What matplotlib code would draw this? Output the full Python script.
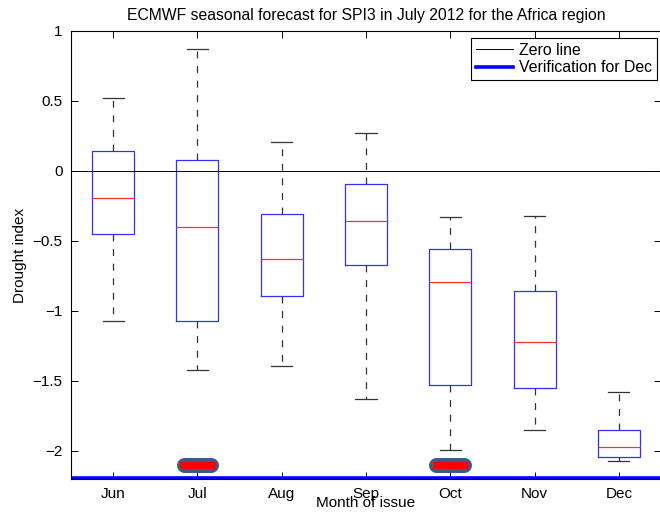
import matplotlib
matplotlib.use("Agg")
from matplotlib import pyplot as plt

plt.rcParams['font.family'] = ['Liberation Sans', 'DejaVu Sans']
plt.rcParams['lines.scale_dashes'] = False

months = ["Jun", "Jul", "Aug", "Sep", "Oct", "Nov", "Dec"]
whisker_hi = [0.52, 0.87, 0.21, 0.27, -0.33, -0.32, -1.58]
q3 = [0.14, 0.08, -0.31, -0.09, -0.56, -0.86, -1.85]
median = [-0.19, -0.40, -0.63, -0.36, -0.79, -1.22, -1.97]
q1 = [-0.45, -1.07, -0.89, -0.67, -1.53, -1.55, -2.04]
whisker_lo = [-1.07, -1.42, -1.39, -1.63, -1.99, -1.85, -2.07]

verif_dec = -2.19
hit_months = ["Jul", "Oct"]
hit_value = -2.10

stats = []
for i, m in enumerate(months):
    stats.append({"label": m, "whislo": whisker_lo[i], "q1": q1[i], "med": median[i],
                  "q3": q3[i], "whishi": whisker_hi[i], "fliers": []})

fig = plt.figure(figsize=(6.6, 5.15), dpi=100)
ax = fig.add_axes([71 / 660, 1 - 479 / 515, 590 / 660, 448 / 515])

pos = list(range(1, len(months) + 1))
ax.bxp(stats, positions=pos, widths=0.5, showfliers=False,
       boxprops=dict(color="#3030ff", linewidth=0.9),
       medianprops=dict(color="#ff3030", linewidth=0.9),
       whiskerprops=dict(color="#333333", linewidth=0.9, linestyle=(0, (5, 5.5))),
       capprops=dict(color="#333333", linewidth=0.9),
       capwidths=0.25)

zero, = ax.plot([0.5, 7.5], [0, 0], color="black", linewidth=0.7, label="Zero line")
verif, = ax.plot([0.5, 7.5], [verif_dec, verif_dec], color="#0000ff", linewidth=2.6,
                 label="Verification for Dec")

# red markers where the forecast got it right
for m in hit_months:
    x = months.index(m) + 1
    ax.plot([x - 0.165, x + 0.165], [hit_value, hit_value], color="#3b5c85",
            linewidth=10.8, solid_capstyle="round", zorder=5)
    ax.plot([x - 0.205, x + 0.205], [hit_value, hit_value], color="#ff0000",
            linewidth=5, solid_capstyle="butt", zorder=6)

ax.set_xlim(0.5, 7.5)
ax.set_ylim(-2.2, 1)
ax.set_xticks(pos)
ax.set_xticklabels(months, fontsize=11)
ax.set_yticks([-2, -1.5, -1, -0.5, 0, 0.5, 1])
ax.set_yticklabels(["\u22122", "\u22121.5", "\u22121", "\u22120.5", "0", "0.5", "1"], fontsize=11)
ax.tick_params(direction="in", top=True, right=True, length=5, width=0.7, pad=6)
for s in ax.spines.values():
    s.set_linewidth(0.8)

ax.set_xlabel("Month of issue", fontsize=11, labelpad=-4)
ax.set_ylabel("Drought index", fontsize=11, labelpad=4)
ax.set_title("ECMWF seasonal forecast for SPI3 in July 2012 for the Africa region",
             fontsize=11.3, pad=8)

leg = ax.legend(handles=[zero, verif], loc="upper right", fontsize=11.4,
                bbox_to_anchor=(657 / 660, 1 - 38 / 515), bbox_transform=fig.transFigure,
                fancybox=False, framealpha=1, edgecolor="black", handlelength=2.35,
                borderpad=0.3, labelspacing=0.15, handletextpad=0.4, borderaxespad=0)
leg.get_frame().set_linewidth(0.8)

fig.savefig("out.png", dpi=100)
